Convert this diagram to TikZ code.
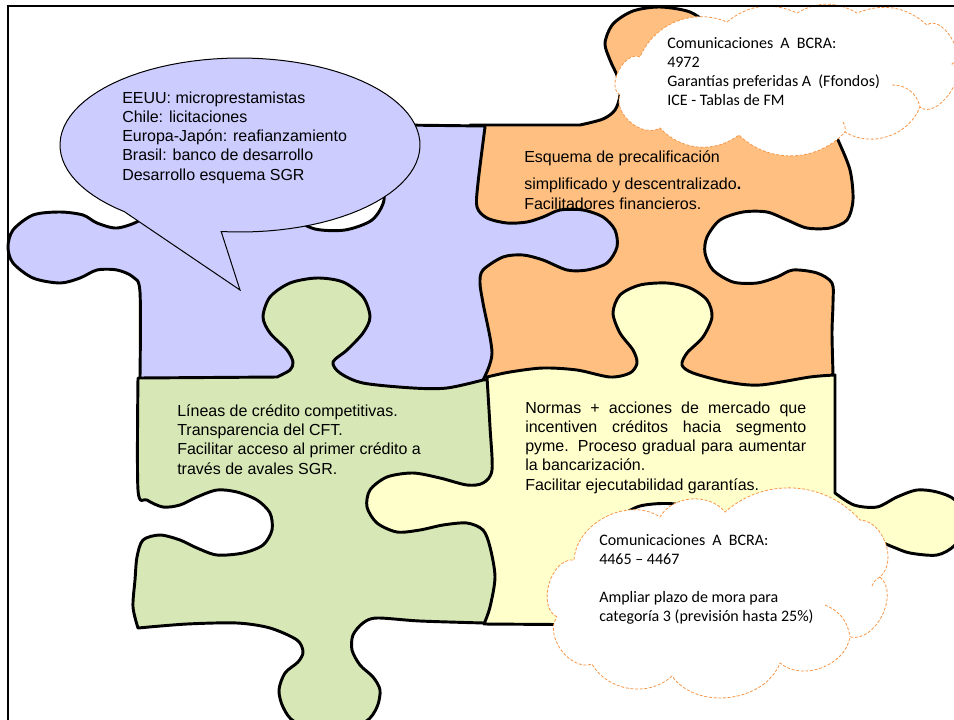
\documentclass[tikz,border=0pt]{standalone}
\usepackage{fontspec}
\setmainfont{Liberation Sans}
\newfontfamily\calib{Carlito}
\definecolor{pPurple}{HTML}{CCCCFF}
\definecolor{pOrange}{HTML}{FFBF80}
\definecolor{pGreen}{HTML}{D7E8B6}
\definecolor{pYellow}{HTML}{FFFFCC}
\definecolor{cloudLine}{HTML}{F79646}
\begin{document}
\begin{tikzpicture}[x=0.75pt,y=-0.75pt,
  piece/.style={draw=black, line width=2.2pt, line join=round},
  cloudline/.style={draw=cloudLine, line width=0.6pt, dash pattern=on 2.2pt off 1.3pt},
  txt/.style={anchor=base west, align=left, inner sep=0pt, font=\fontsize{12}{14.4}\selectfont},
  ctxt/.style={anchor=base west, align=left, inner sep=0pt, font=\calib\fontsize{12}{14.25}\selectfont}]
\useasboundingbox (0,0) rectangle (954,719);
\clip (0,0) rectangle (954,719);
\fill[white] (0,0) rectangle (954,719);
% orange piece
\draw[piece, fill=pOrange] (470,125) -- (580,125)
 -- plot[smooth] coordinates {(580,125) (603,119) (615,110) (620,95) (618,78) (610,60) (605,43) (613,24) (633,11) (660,7) (690,12) (708,26) (712,45) (705,70) (703,95) (712,112) (735,122) (760,125)}
 -- (830,124)
 -- plot[smooth] coordinates {(830,124) (838,140) (850,170) (853,200) (847,220) (830,228) (807,228) (787,220) (767,212) (743,212) (720,220) (707,237) (705,253) (713,270) (733,282) (757,283) (777,277) (793,270) (817,273) (832,283) (833,303) (832,333) (833,373)}
 -- (820,395) -- (470,395) -- cycle;
% purple piece
\draw[piece, fill=pPurple] (485,126) -- (400,125)
 -- plot[smooth] coordinates {(400,125) (362,127) (353,140) (360,160) (378,178) (384,200) (372,220) (345,230) (315,229) (295,218) (287,200) (293,180) (310,160) (317,140) (308,127) (270,125)}
 -- (152,125)
 -- plot[smooth] coordinates {(152,125) (150,170) (146,205) (140,220) (117,228) (97,223) (83,215) (60,212) (33,215) (13,230) (8,247) (13,263) (33,278) (60,283) (80,278) (97,270) (117,270) (133,277) (140,292) (140,377)}
 -- (150,395) -- (490,395) -- (483,380)
 -- plot[smooth] coordinates {(483,380) (492,353) (483,303) (480,283) (483,270) (503,257) (523,255) (543,260) (567,270) (587,270) (607,263) (617,247) (615,230) (603,217) (583,210) (560,210) (543,217) (527,222) (507,223) (487,218) (477,207) (478,183) (485,127)}
 -- cycle;
% green piece
\draw[piece, fill=pGreen] (138,378) -- (277,377)
 -- plot[smooth] coordinates {(277,377) (290,370) (293,362) (287,350) (270,333) (263,317) (270,297) (290,283) (317,278) (343,282) (363,297) (370,317) (363,333) (347,350) (333,362) (340,373) (363,383) (413,388) (447,388) (483,380)}
 -- (505,380) -- (505,610) -- (484,623)
 -- plot[smooth] coordinates {(484,623) (420,621) (377,618) (363,623) (353,635) (352,650) (360,665) (373,677) (380,690) (377,707) (365,722) (330,732) (295,722) (283,707) (279,690) (285,673) (298,662) (303,652) (297,640) (270,628) (237,623) (187,624) (138,628)}
 -- plot[smooth] coordinates {(138,628) (133,607) (135,580) (137,557) (143,540) (160,535) (180,540) (197,548) (217,555) (243,553) (263,545) (272,530) (270,513) (257,500) (237,492) (217,490) (197,497) (180,505) (163,507) (147,500) (138,490) (138,378)}
 -- cycle;
% yellow piece
\draw[piece, fill=pYellow] (487,377)
 -- plot[smooth] coordinates {(487,377) (510,372) (543,368) (577,370) (610,377) (630,373) (637,363) (633,350) (620,333) (613,313) (620,295) (640,285) (667,283) (690,288) (707,300) (712,317) (703,337) (687,353) (682,365) (693,373) (727,382) (760,385) (810,377) (835,375)}
 -- (835,493)
 -- plot[smooth] coordinates {(835,493) (854,505) (877,507) (897,497) (917,490) (937,492) (955,500) (968,522) (955,545) (937,555) (910,553) (893,547) (870,538) (850,540) (838,555) (835,580)}
 -- (835,625) -- (700,625)
 -- plot[smooth] coordinates {(700,625) (690,612) (695,592) (710,568) (716,540) (705,515) (675,504) (640,506) (618,520) (612,545) (620,570) (635,595) (640,612) (630,625)}
 -- (484,624)
 -- plot[smooth] coordinates {(484,624) (490,607) (495,577) (490,547) (483,530) (467,523) (443,525) (420,530) (397,532) (377,523) (367,507) (370,490) (387,477) (413,473) (440,478) (467,485) (483,483) (492,470) (490,427) (487,377)}
 -- cycle;
% speech bubble
\draw[fill=pPurple, line width=0.75pt, line join=miter]
  plot[domain=130:456, samples=90, variable=\t] ({240+180*cos(\t)},{145+87*sin(\t)}) -- (240,290) -- cycle;
% upper cloud
\path[cloudline, fill=white] (620,95) to[bend left=86] (640,57) to[bend left=45] (727,22)
  to[bend left=32] (797,13) to[bend left=30] (857,13) to[bend left=32] (927,25)
  to[bend left=96] (952,64) to[bend left=94] (920,107) to[bend left=50] (845,132)
  to[bend left=46] (739,135) to[bend left=42] (660,128) to[bend left=71] (620,95) -- cycle;
\draw[cloudline] (892,85) to[bend left=40] (920,107);
\draw[cloudline] (843,122) to[bend left=20] (845,132);
% lower cloud
\path[cloudline, fill=white] (557,617) to[bend left=80] (574,560) to[bend left=60] (660,517)
  to[bend left=55] (725,512) to[bend left=45] (860,520) to[bend left=68] (880,577)
  to[bend left=76] (850,637) to[bend left=60] (780,663) to[bend left=62] (672,676)
  to[bend left=52] (592,664) to[bend left=73] (557,617) -- cycle;
\draw[cloudline] (825,605) to[bend left=30] (850,637);
\draw[cloudline] (872,586) to[bend left=20] (880,577);
% texts (anchored at the baseline of the last line)
\node[txt] (tb) at (122,180) {EEUU: microprestamistas\\Chile: licitaciones\\Europa-Japón: reafianzamiento\\Brasil: banco de desarrollo\\Desarrollo esquema SGR};
\node[txt, font=\fontsize{12}{14.6}\selectfont] (to) at (524,209.3) {Esquema de precalificación\\[6pt]simplificado y descentralizado{\bfseries .}\\Facilitadores financieros.};
\node[txt] (tg) at (177,474) {Líneas de crédito competitivas.\\Transparencia del CFT.\\Facilitar acceso al primer crédito a\\través de avales SGR.};
\node[txt] (ty) at (525,490) {\makebox[210.75pt][s]{Normas + acciones de mercado que}\\\makebox[210.75pt][s]{incentiven créditos hacia segmento}\\\makebox[210.75pt][s]{pyme. Proceso gradual para aumentar}\\la bancarización.\\Facilitar ejecutabilidad garantías.};
\node[ctxt] (tc1) at (667,105) {Comunicaciones\ \ A\ \ BCRA:\\4972\\Garantías preferidas A\ \ (Ffondos)\\ICE - Tablas de FM};
\node[ctxt] (tc2) at (599,621) {Comunicaciones\ \ A\ \ BCRA:\\4465 – 4467\\[14.25pt]Ampliar plazo de mora para\\categoría 3 (previsión hasta 25\%)};
% frame
\draw[line width=1.6pt] (8,730) -- (8,6) -- (960,6);
\end{tikzpicture}
\end{document}
